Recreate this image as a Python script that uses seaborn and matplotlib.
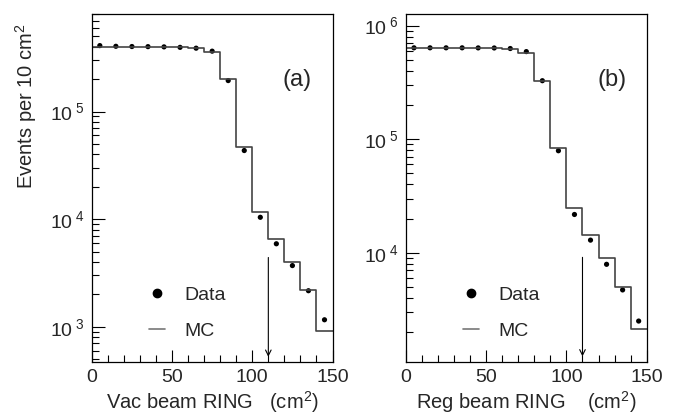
import numpy as np
import pandas as pd
import matplotlib
matplotlib.use("Agg")
import matplotlib.pyplot as plt
import seaborn as sns
from matplotlib.lines import Line2D
from matplotlib.ticker import FixedLocator, FuncFormatter, LogLocator, MultipleLocator

# bins de 10 cm2 entre 0 e 150
bordas = np.arange(0, 160, 10)
centros = np.arange(5, 150, 10)

# painel (a) - Vac beam
dados_vac = [4.10e5, 4.04e5, 4.02e5, 4.01e5, 3.99e5, 3.95e5, 3.88e5, 3.64e5,
             1.94e5, 4.34e4, 1.04e4, 5.9e3, 3.7e3, 2.16e3, 1.16e3]
mc_vac = [3.97e5, 3.97e5, 3.96e5, 3.96e5, 3.95e5, 3.94e5, 3.90e5, 3.57e5,
          2.00e5, 4.65e4, 1.16e4, 6.5e3, 4.0e3, 2.18e3, 9.2e2]

# painel (b) - Reg beam
dados_reg = [6.37e5, 6.37e5, 6.37e5, 6.37e5, 6.36e5, 6.35e5, 6.28e5, 5.90e5,
             3.27e5, 7.9e4, 2.17e4, 1.29e4, 7.9e3, 4.7e3, 2.5e3]
mc_reg = [6.31e5, 6.31e5, 6.31e5, 6.31e5, 6.31e5, 6.30e5, 6.24e5, 5.79e5,
          3.28e5, 8.4e4, 2.47e4, 1.44e4, 8.97e3, 5.0e3, 2.14e3]

corte = 110

paineis = [
    dict(dados=dados_vac, mc=mc_vac, nome='(a)', xlabel='Vac beam RING   (cm$^2$)',
         ylim=(470, 8.1e5), seta=(4.4e3, 525), expoentes=[3, 4, 5]),
    dict(dados=dados_reg, mc=mc_reg, nome='(b)', xlabel='Reg beam RING    (cm$^2$)',
         ylim=(1.09e3, 1.27e6), seta=(9.1e3, 1.22e3), expoentes=[4, 5, 6]),
]

sns.set_style("ticks")
plt.rcParams['font.family'] = ['Liberation Sans', 'DejaVu Sans']
plt.rcParams['mathtext.fontset'] = 'custom'
plt.rcParams['mathtext.rm'] = 'Liberation Sans'
plt.rcParams['mathtext.it'] = 'Liberation Sans'

fig = plt.figure(figsize=(6.8, 4.18), dpi=100)
posicoes = [[0.135, 0.134, 0.354, 0.833], [0.597, 0.134, 0.354, 0.833]]

for pos, p in zip(posicoes, paineis):
    ax = fig.add_axes(pos)
    ax.set_yscale('log')
    # histograma do MC em degraus (ultimo valor repetido para fechar o bin final)
    df_mc = pd.DataFrame({'ring': bordas, 'mc': list(p['mc']) + [p['mc'][-1]]})
    sns.lineplot(data=df_mc, x='ring', y='mc', drawstyle='steps-post', estimator=None,
                 color='#444444', linewidth=1.2, ax=ax)
    df = pd.DataFrame({'ring': centros, 'dados': p['dados']})
    sns.scatterplot(data=df, x='ring', y='dados', color='black', s=14, edgecolor='none', ax=ax)
    ax.set_xlim(0, 150)
    ax.set_ylim(*p['ylim'])

    ax.annotate('', xy=(corte, p['seta'][1]), xytext=(corte, p['seta'][0]),
                arrowprops=dict(arrowstyle='->', color='black', lw=0.8,
                                shrinkA=0, shrinkB=0, mutation_scale=10))

    ax.xaxis.set_major_locator(MultipleLocator(50))
    ax.xaxis.set_minor_locator(MultipleLocator(10))
    ax.yaxis.set_major_locator(FixedLocator([10.0 ** e for e in p['expoentes']]))
    ax.yaxis.set_minor_locator(LogLocator(base=10, subs=np.arange(2, 10)))
    ax.yaxis.set_major_formatter(FuncFormatter(lambda v, pos: r'10$^{\ %d}$' % round(np.log10(v))))
    ax.tick_params(which='both', direction='in', labelsize=14, width=0.8, color='black')
    ax.tick_params(which='major', length=9, pad=5)
    ax.tick_params(which='minor', length=5)
    for s in ax.spines.values():
        s.set_linewidth(0.9)
        s.set_color('black')

    ax.set_xlabel(p['xlabel'], fontsize=14.5, labelpad=2)
    ax.set_ylabel('')
    ax.text(0.915, 0.81, p['nome'], transform=ax.transAxes, fontsize=17, ha='right', va='center')

    alcas = [Line2D([], [], marker='o', color='black', linestyle='none', markersize=6),
             Line2D([], [], color='#777777', lw=1.2)]
    ax.legend(alcas, ['Data', 'MC'], loc='lower left', bbox_to_anchor=(0.165, 0.013),
              frameon=False, fontsize=14, handlelength=0.8, handletextpad=1.0,
              labelspacing=0.95)

    if p['nome'] == '(a)':
        ax.set_ylabel('Events per 10 cm$^2$', fontsize=14.5)
        ax.yaxis.set_label_coords(-0.22, 0.735)

fig.savefig('out.png', dpi=100)
